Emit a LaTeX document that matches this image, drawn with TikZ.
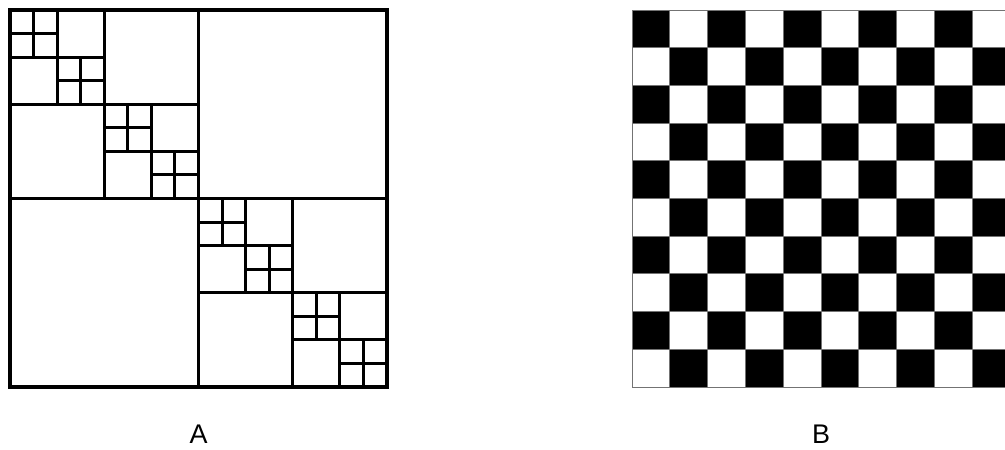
\documentclass[tikz,border=0pt]{standalone}
\usepackage{fontspec}
\setmainfont{Liberation Sans}
\usetikzlibrary{positioning}

\begin{document}
\begin{tikzpicture}[
    x=0.3mm, y=-0.3mm,
    quadline/.style={draw=black, line width=2.6pt},
    cell/.style={draw=black!55, line width=0.8pt},
    darkcell/.style={cell, fill=black},
    caption/.style={font=\fontsize{23}{27}\selectfont, inner sep=0pt}
  ]

    % --- Page ---
    \useasboundingbox (0,0) rectangle (1005,450);

    % --- A: recursive quadrants along the diagonal ---
    \draw[quadline] (10,10) rectangle (387,387);
    \foreach \lev in {0,...,3} {
      \pgfmathsetmacro\side{377/2^\lev}
      \pgfmathtruncatemacro\last{2^\lev-1}
      \foreach \i in {0,...,\last} {
        \pgfmathsetmacro\corner{10+\i*\side}
        \draw[quadline] (\corner+\side/2,\corner) -- ++(0,\side);
        \draw[quadline] (\corner,\corner+\side/2) -- ++(\side,0);
      }
    }

    % --- B: checkerboard (cut at the right page edge) ---
    \begin{scope}
      \clip (0,0) rectangle (1005,450);
      \foreach \r in {0,...,9} {
        \foreach \c in {0,...,9} {
          \pgfmathtruncatemacro\parity{mod(\r+\c,2)}
          \ifnum\parity=0
            \draw[darkcell] (632+\c*37.8,10+\r*37.7) rectangle ++(37.8,37.7);
          \else
            \draw[cell] (632+\c*37.8,10+\r*37.7) rectangle ++(37.8,37.7);
          \fi
        }
      }
    \end{scope}

    % --- Captions ---
    \node[caption] (capA) at (198.5,434) {A};
    \node[caption] (capB) at (821,434) {B};

\end{tikzpicture}
\end{document}
